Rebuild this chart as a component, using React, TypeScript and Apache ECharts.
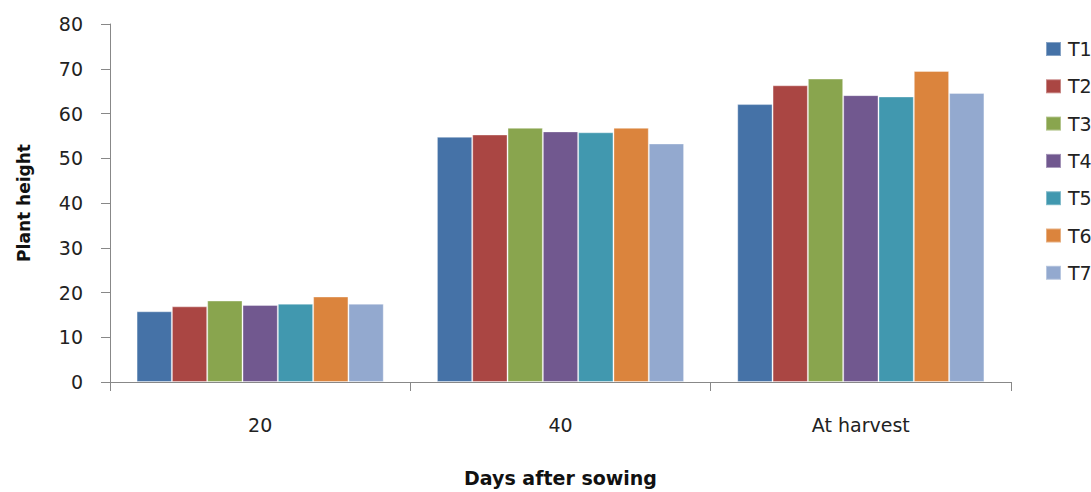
import React, { useEffect, useRef } from "react";
import * as echarts from "echarts";

const categories = ["20", "40", "At harvest"];
const seriesNames = ["T1", "T2", "T3", "T4", "T5", "T6", "T7"];
const T1 = [15.8, 54.8, 62.1];
const T2 = [16.9, 55.3, 66.3];
const T3 = [18.2, 56.8, 67.8];
const T4 = [17.2, 56.0, 64.1];
const T5 = [17.5, 55.8, 63.8];
const T6 = [19.1, 56.8, 69.5];
const T7 = [17.5, 53.3, 64.6];
const seriesValues = [T1, T2, T3, T4, T5, T6, T7];
const colors = ["#4572A7", "#AA4643", "#89A54E", "#71588F", "#4198AF", "#DB843D", "#93A9CF"];

const FONT = "'DejaVu Sans', sans-serif";

export default function App() {
  const ref = useRef<HTMLDivElement>(null);
  useEffect(() => {
    if (!ref.current) return;
    const chart = echarts.init(ref.current, undefined, { renderer: "svg" });
    chart.setOption({
      animation: false,
      color: colors,
      textStyle: { fontFamily: FONT },
      grid: { left: 110, top: 24, right: 80, bottom: 105, containLabel: false },
      legend: {
        orient: "vertical",
        left: 1040,
        top: 34,
        itemWidth: 15,
        itemHeight: 14,
        itemGap: 17.3,
        icon: "rect",
        data: seriesNames,
        textStyle: { fontSize: 19, color: "#222", fontFamily: FONT, lineHeight: 20, padding: [0, 0, 0, 2] },
      },
      xAxis: {
        type: "category",
        data: categories,
        name: "Days after sowing",
        nameLocation: "middle",
        nameGap: 86,
        nameTextStyle: { fontSize: 19, fontWeight: "bold", color: "#111", fontFamily: FONT },
        axisLine: { lineStyle: { color: "#888", width: 1 } },
        axisTick: { show: true, length: 9, lineStyle: { color: "#888" } },
        axisLabel: { fontSize: 19, color: "#222", margin: 33, fontFamily: FONT },
      },
      yAxis: {
        type: "value",
        min: 0,
        max: 80,
        interval: 10,
        name: "Plant height",
        nameLocation: "middle",
        nameGap: 78,
        nameRotate: 90,
        nameTextStyle: { fontSize: 17, fontWeight: "bold", color: "#111", fontFamily: FONT },
        axisLine: { show: true, lineStyle: { color: "#888", width: 1 } },
        axisTick: { show: true, length: 9, lineStyle: { color: "#888" } },
        splitLine: { show: false },
        axisLabel: { fontSize: 19, color: "#222", margin: 27, fontFamily: FONT },
      },
      series: seriesNames.map((n, i) => ({
        name: n,
        type: "bar",
        data: seriesValues[i],
        barGap: "0%",
        barCategoryGap: "17.7%",
        itemStyle: { color: colors[i], borderColor: "rgba(255,255,255,0.35)", borderWidth: 1 },
      })),
    });
    return () => chart.dispose();
  }, []);
  return (
    <div
      ref={ref}
      style={{ position: "fixed", left: 0, top: 0, width: 1091, height: 492, background: "#fff" }}
    />
  );
}
